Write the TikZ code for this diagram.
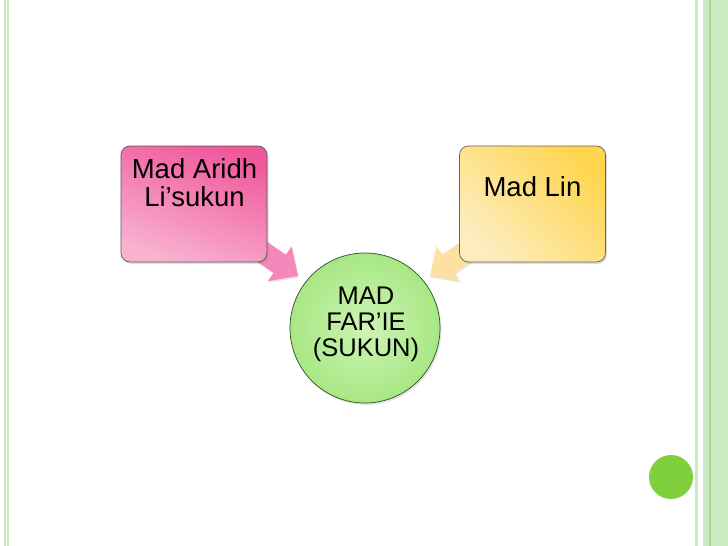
\documentclass[tikz,border=0pt]{standalone}
\usepackage{fontspec}
\setmainfont{Liberation Sans}
\usetikzlibrary{shadows}
\definecolor{sideline}{HTML}{C8EABF}
\definecolor{sideband}{HTML}{CBEBC3}
\definecolor{sidedark}{HTML}{A3DA92}
\definecolor{pinkdark}{HTML}{F0589C}
\definecolor{pinklight}{HTML}{F8B2D0}
\definecolor{yelldark}{HTML}{FFD550}
\definecolor{yelllight}{HTML}{FDEDBE}
\definecolor{greenin}{HTML}{CDF4B4}
\definecolor{greenout}{HTML}{A8E784}
\definecolor{pinkarrow}{HTML}{F488BA}
\definecolor{yellarrow}{HTML}{FCE1A2}
\definecolor{dotgreen}{HTML}{80D03E}
\definecolor{boxedge}{HTML}{5E5356}
\begin{document}
\begin{tikzpicture}[x=1pt,y=-1pt,
  boxshape/.style={draw=boxedge, line width=0.7pt, rounded corners=9pt,
    minimum width=146pt, minimum height=116pt, inner sep=0pt,
    drop shadow={shadow xshift=1.5pt, shadow yshift=-2pt, opacity=0.25}},
  bigtext/.style={font=\fontsize{27.5}{28}\selectfont, align=center, inner sep=0pt, anchor=north},
  circtext/.style={font=\fontsize{25.5}{26}\selectfont, align=center, inner sep=0pt, anchor=north},
  arrowshape/.style={drop shadow={shadow xshift=1pt, shadow yshift=-1.5pt, opacity=0.2}}
]
\useasboundingbox (0,0) rectangle (728,546);
\fill[white] (0,0) rectangle (728,546);
% side decorations
\fill[sideline] (4,0) rectangle (5.5,546);
\fill[sideline] (7,0) rectangle (8.5,546);
\fill[sideline] (695,0) rectangle (698,546);
\fill[sideband] (703,0) rectangle (728,546);
\fill[sidedark] (709,0) rectangle (711,546);
\fill[dotgreen] (671,477) circle (22);

% arrows (drawn first, under boxes)
\coordinate (pa1) at (258.6,236.1);
\coordinate (pa2) at (285.9,254.6);
\coordinate (pa3) at (291.5,246.3);
\coordinate (patip) at (298,276);
\coordinate (pa5) at (268,281.1);
\coordinate (pa6) at (273.5,272.8);
\coordinate (pa7) at (246.2,254.3);
\fill[pinkarrow, arrowshape] (pa1) -- (pa2) -- (pa3) -- (patip) -- (pa5) -- (pa6) -- (pa7) -- cycle;
\coordinate (ya1) at (469.4,236.1);
\coordinate (ya2) at (442.1,254.6);
\coordinate (ya3) at (436.5,246.3);
\coordinate (yatip) at (430,276);
\coordinate (ya5) at (460,281.1);
\coordinate (ya6) at (454.5,272.8);
\coordinate (ya7) at (481.8,254.3);
\fill[yellarrow, arrowshape] (ya1) -- (ya2) -- (ya3) -- (yatip) -- (ya5) -- (ya6) -- (ya7) -- cycle;

% boxes
\node[boxshape, top color=pinkdark, bottom color=pinklight, shading angle=-20] (pinkbox) at (194,204) {};
\node[bigtext] (pinktext) at (194.5,158) {Mad Aridh\\Li’sukun};
\node[boxshape, draw=boxedge!80!brown, top color=yelldark, bottom color=yelllight, shading angle=-45] (yellbox) at (532.5,204) {};
\node[bigtext] (yelltext) at (532.5,176) {Mad Lin};

% centre circle
\node[circle, draw=boxedge!70!green!60!black, line width=0.7pt, minimum size=150pt, inner sep=0pt,
  inner color=greenin, outer color=greenout,
  drop shadow={shadow xshift=1.5pt, shadow yshift=-2pt, opacity=0.2}] (centre) at (365,328) {};
\node[circtext] (centretext) at (366,287) {MAD\\FAR’IE\\(SUKUN)};
\end{tikzpicture}
\end{document}
